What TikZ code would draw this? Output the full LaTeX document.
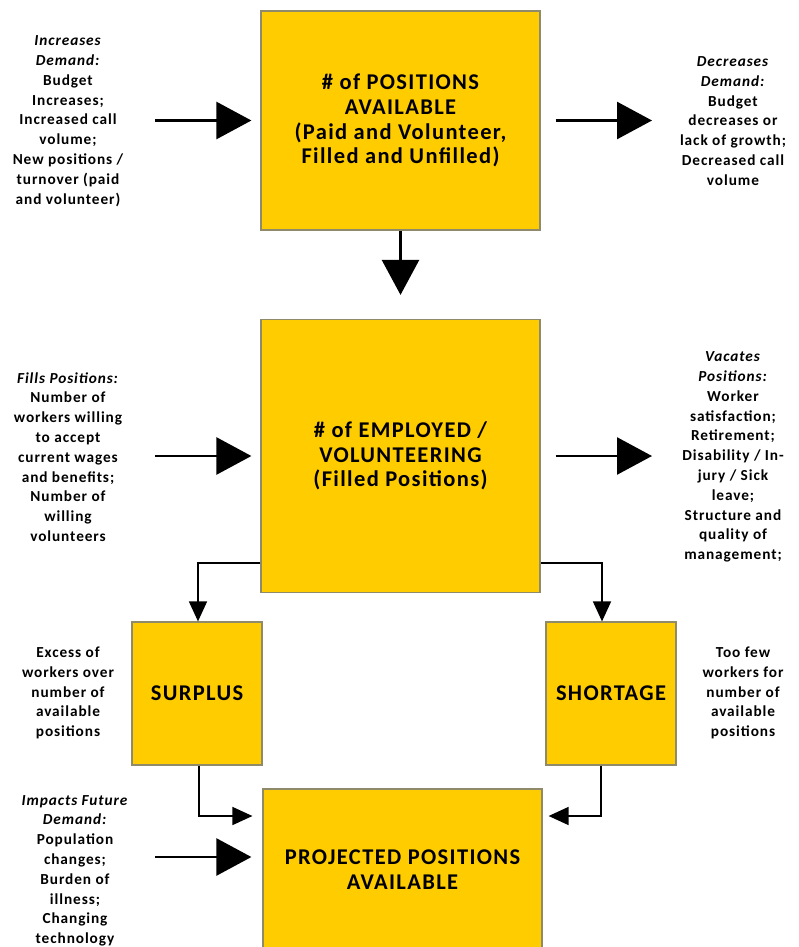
\documentclass[tikz,border=0pt]{standalone}
\usepackage{fontspec}
\setmainfont{Carlito}[LetterSpace=6]
\usetikzlibrary{arrows.meta,positioning}

\definecolor{boxfill}{HTML}{FFCC00}
\definecolor{boxline}{HTML}{8F8A6A}

\newcommand\sidefont{\fontsize{15.3}{19.8}\selectfont\bfseries}
\newcommand\boxfont{\fontsize{22.5}{24.8}\selectfont\bfseries}

\tikzset{
  bigbox/.style={draw=boxline, fill=boxfill, line width=1.2pt, minimum width=279pt,
    inner sep=0pt, align=center, font=\boxfont},
  smallbox/.style={bigbox, minimum width=130pt, minimum height=143pt},
  sidetext/.style={align=center, font=\sidefont, inner sep=0pt},
  bigarrow/.style={line width=2.6pt, -{Triangle[length=35pt,width=37pt]}},
  elbowarrow/.style={line width=1.6pt, -{Triangle[length=20pt,width=18pt]}}
}

\begin{document}
\begin{tikzpicture}[x=1pt,y=-1pt]
\useasboundingbox (0,0) rectangle (799,947);

% boxes
\node[bigbox, minimum height=219pt] (avail) at (400.5,120.5)
  {\# of POSITIONS\\AVAILABLE\\(Paid and Volunteer,\\Filled and Unfilled)};
\node[bigbox, minimum height=273pt] (employed) at (400.5,456)
  {\# of EMPLOYED /\\VOLUNTEERING\\(Filled Positions)};
\node[smallbox] (surplus) at (197,693.5) {SURPLUS};
\node[smallbox] (shortage) at (611,693.5) {SHORTAGE};
\node[bigbox, minimum height=162pt] (projected) at (402.5,870)
  {PROJECTED POSITIONS\\AVAILABLE};

% side texts
\node[sidetext] (incdem) at (68,121)
  {\textit{Increases}\\\textit{Demand:}\\Budget\\Increases;\\Increased call\\volume;\\New positions /\\turnover (paid\\and volunteer)};
\node[sidetext] (decdem) at (733,121)
  {\textit{Decreases}\\\textit{Demand:}\\Budget\\decreases or\\lack of growth;\\Decreased call\\volume};
\node[sidetext] (fills) at (68,457)
  {\textit{Fills Positions:}\\Number of\\workers willing\\to accept\\current wages\\and benefits;\\Number of\\willing\\volunteers};
\node[sidetext] (vacates) at (733,457)
  {\textit{Vacates}\\\textit{Positions:}\\Worker\\satisfaction;\\Retirement;\\Disability / In-\\jury / Sick\\leave;\\Structure and\\quality of\\management;};
\node[sidetext] (excess) at (68,693)
  {Excess of\\workers over\\number of\\available\\positions};
\node[sidetext] (toofew) at (743,693)
  {Too few\\workers for\\number of\\available\\positions};
\node[sidetext, anchor=north] (impacts) at (75,795)
  {\textit{Impacts Future}\\\textit{Demand:}\\Population\\changes;\\Burden of\\illness;\\Changing\\technology};

% arrow ends
\coordinate (incin) at (155,120.5);
\coordinate (decout) at (652,120.5);
\coordinate (fillin) at (155,456);
\coordinate (vacout) at (652,456);
\coordinate (impin) at (155,857);
\coordinate (forkrow) at (0,563);
\coordinate (lowrow) at (0,816);

\draw[bigarrow, shorten >=9pt] (incin) -- (avail);
\draw[bigarrow, shorten <=15pt] (avail) -- (decout);
\draw[bigarrow, shorten >=24pt] (avail) -- (employed);
\draw[bigarrow, shorten >=9pt] (fillin) -- (employed.west |- fillin);
\draw[bigarrow, shorten <=15pt] (employed.east |- vacout) -- (vacout);
\draw[bigarrow, shorten >=11pt] (impin) -- (projected.west |- impin);

\draw[elbowarrow] (employed.west |- forkrow) -| ([xshift=1pt]surplus.north);
\draw[elbowarrow] (employed.east |- forkrow) -| ([xshift=-9pt]shortage.north);
\draw[elbowarrow, shorten >=10pt] ([xshift=2pt]surplus.south) |- (projected.west |- lowrow);
\draw[elbowarrow, shorten >=6pt] ([xshift=-10pt]shortage.south) |- (projected.east |- lowrow);
\end{tikzpicture}
\end{document}
